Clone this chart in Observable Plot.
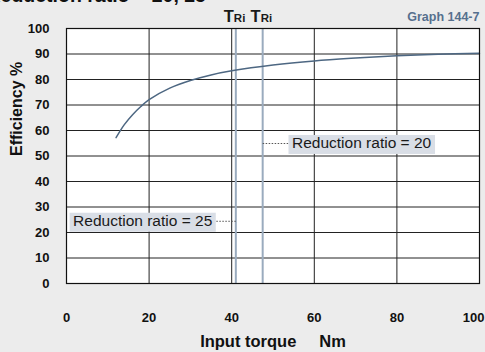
<!DOCTYPE html>
<html>
<head>
<meta charset="utf-8">
<script src="https://cdn.jsdelivr.net/npm/d3@7"></script>
<script src="https://cdn.jsdelivr.net/npm/@observablehq/plot@0.6"></script>
<style>
  html, body { margin: 0; padding: 0; background: #ececec; overflow: hidden; }
  svg { display: block; }
</style>
</head>
<body>
<div id="chart"></div>
<script>
// ---- data ----
const torque = [12, 14, 16, 18, 20, 25, 30, 35, 40, 50, 60, 70, 80, 90, 100];
const efficiency = [57.2, 62.3, 66.2, 69.4, 72.1, 76.6, 79.6, 81.8, 83.4, 85.7, 87.3, 88.4, 89.3, 89.9, 90.3];
const xTicks = [0, 20, 40, 60, 80, 100];
const yTicks = [0, 10, 20, 30, 40, 50, 60, 70, 80, 90, 100];
const ratedTorque = [41, 47.5];              // T_Ri lines
const ratioLabels = ["Reduction ratio = 25", "Reduction ratio = 20"];
const ratioLabelX = [1.6, 54.6];
const ratioLabelY = [24.4, 54.9];
const titleText = "Reduction ratio = 20, 25";
const graphId = "Graph 144-7";
const xLabel = "Input torque\u00a0\u00a0\u00a0\u00a0\u00a0Nm";
const yLabel = "Efficiency %";

const curve = torque.map((t, i) => ({t, e: efficiency[i]}));
const labels = ratioLabels.map((s, i) => ({s, x: ratioLabelX[i], y: ratioLabelY[i], tr: ratedTorque[i]}));

const font = "'Liberation Sans', Arial, Helvetica, sans-serif";

const chart = Plot.plot({
  width: 485,
  height: 352,
  marginLeft: 66,
  marginRight: 6,
  marginTop: 28,
  marginBottom: 69,
  x: {domain: [0, 100], axis: null},
  y: {domain: [0, 100], axis: null},
  style: {background: "#ececec", fontFamily: font, overflow: "hidden"},
  marks: [
    Plot.frame({fill: "white"}),
    Plot.ruleX(xTicks.filter(d => d > 0 && d < 100), {x: d => d, stroke: "#222", strokeWidth: 1}),
    Plot.ruleY(yTicks.filter(d => d > 0 && d < 100), {y: d => d, stroke: "#222", strokeWidth: 1}),
    Plot.ruleX(ratedTorque, {x: d => d, stroke: "#9aabbe", strokeWidth: 2}),
    Plot.line(curve, {x: "t", y: "e", curve: "catmull-rom", stroke: "#4d6782", strokeWidth: 1.5}),
    Plot.link(labels, {x1: "tr", x2: "x", y1: "y", y2: "y", stroke: "#555", strokeWidth: 1, strokeDasharray: "1.5,1.5"}),
    Plot.text(labels, {x: "x", y: "y", text: "s", textAnchor: "start", lineAnchor: "middle", fontSize: 15.5, fill: "#1a1a1a"}),
    Plot.frame({stroke: "#111", strokeWidth: 1.2}),
    // y tick labels
    Plot.text(yTicks, {y: d => d, text: d => String(d), frameAnchor: "left", textAnchor: "end", dx: -17, fontSize: 13, fontWeight: "bold", fill: "#111"}),
    // x tick labels
    Plot.text(xTicks.filter(d => d < 100), {x: d => d, text: d => String(d), frameAnchor: "bottom", lineAnchor: "bottom", dy: 38, fontSize: 13, fontWeight: "bold", fill: "#111"}),
    Plot.text(xTicks.filter(d => d === 100), {x: d => d, text: d => String(d), frameAnchor: "bottom", lineAnchor: "bottom", textAnchor: "end", dx: 5, dy: 38, fontSize: 13, fontWeight: "bold", fill: "#111"}),
    // axis titles
    Plot.text([xLabel], {frameAnchor: "bottom", lineAnchor: "bottom", dy: 63, text: d => d, fontSize: 16.5, fontWeight: "bold", fill: "#111"}),
    Plot.text([yLabel], {frameAnchor: "left", rotate: -90, dx: -50, text: d => d, fontSize: 16, fontWeight: "bold", fill: "#111"}),
    // T_Ri labels
    Plot.text(ratedTorque, {x: d => d, text: () => "T", frameAnchor: "top", textAnchor: "end", lineAnchor: "bottom", dx: -2, dy: -7, fontSize: 16.5, fontWeight: "bold", fill: "#1a1a1a"}),
    Plot.text(ratedTorque, {x: d => d, text: () => "Ri", frameAnchor: "top", textAnchor: "start", lineAnchor: "bottom", dx: -2, dy: -7, fontSize: 11.5, fontWeight: "bold", fill: "#1a1a1a"}),
    // graph id
    Plot.text([graphId], {frameAnchor: "top-right", textAnchor: "end", lineAnchor: "bottom", dy: -8, text: d => d, fontSize: 12.5, fontWeight: "bold", fill: "#56708e"}),
    // title (cut off at top, as in the source)
    Plot.text([titleText], {frameAnchor: "top-left", textAnchor: "start", lineAnchor: "bottom", dx: -80, dy: -26.5, text: d => d, fontSize: 19.5, fontWeight: "bold", fill: "#111"})
  ]
});

document.getElementById("chart").appendChild(chart);

// background boxes behind the ratio labels
const ns = "http://www.w3.org/2000/svg";
Array.from(chart.querySelectorAll("text"))
  .filter(t => ratioLabels.includes(t.textContent))
  .forEach(t => {
    const b = t.getBBox();
    const r = document.createElementNS(ns, "rect");
    r.setAttribute("x", b.x - 3.5);
    r.setAttribute("y", b.y + 0.5);
    r.setAttribute("width", b.width + 7);
    r.setAttribute("height", b.height + 2);
    r.setAttribute("fill", "#d9dee6");
    const tr = t.getAttribute("transform");
    if (tr) r.setAttribute("transform", tr);
    t.parentNode.insertBefore(r, t);
  });
</script>
</body>
</html>
